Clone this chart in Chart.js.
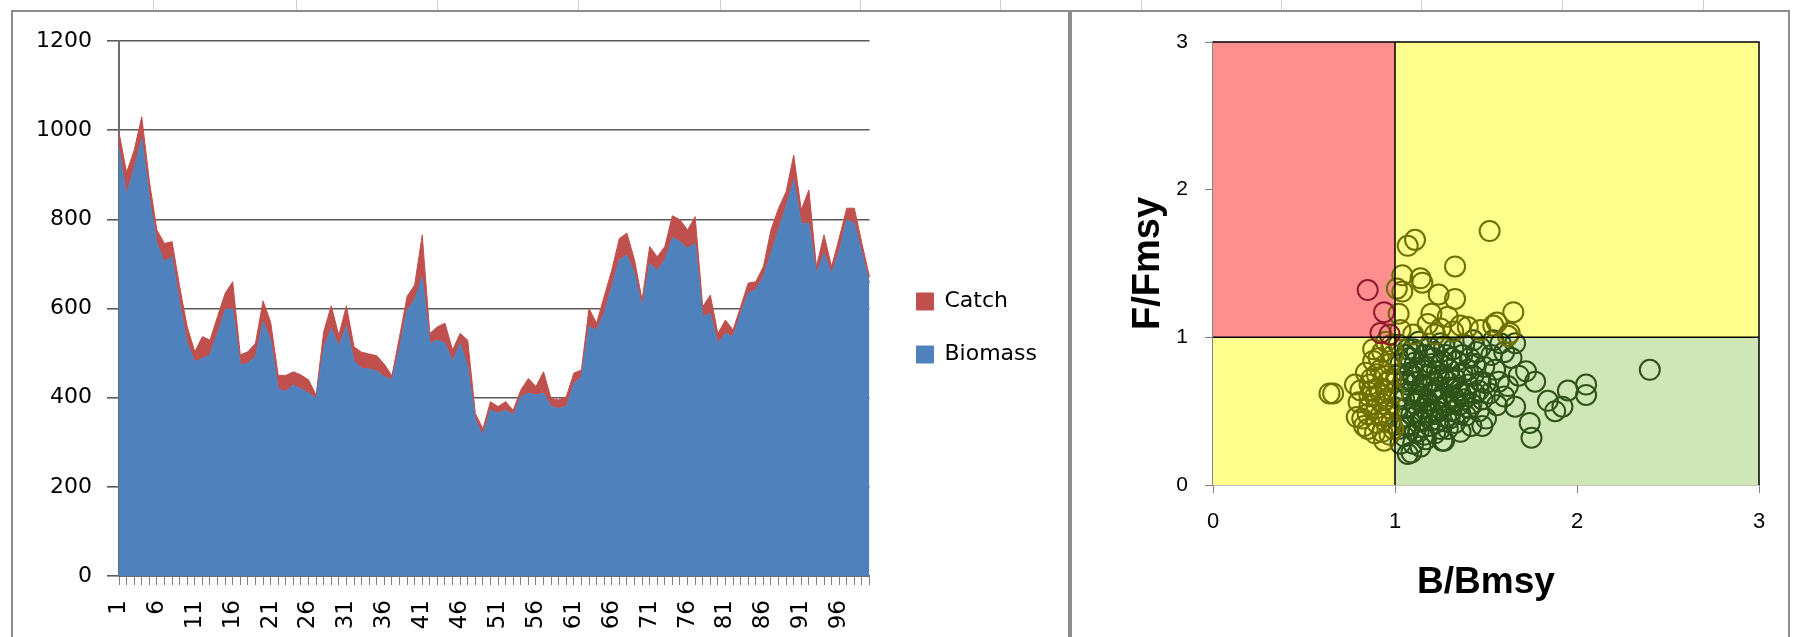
<!DOCTYPE html>
<html lang="en">
<head>
<meta charset="UTF-8">
<title>Biomass and Catch / Kobe plot</title>
<script src="https://cdn.jsdelivr.net/npm/chart.js"></script>
<style>
    body { margin: 0; background: #fff; width: 1803px; height: 637px; overflow: hidden; position: relative; }
    .frame { position: absolute; box-sizing: border-box; border: 2px solid #8d8d8d; background: #fff; }
    .cell { position: absolute; top: 0; width: 1px; height: 10px; background: #d2d2d2; }
    canvas { position: absolute; }
</style>
</head>
<body>
<div class="frame" style="left:11px;top:10px;width:1059px;height:700px"></div>
<div class="frame" style="left:1070px;top:10px;width:720px;height:700px"></div>
<canvas id="areaChart" width="1056" height="625" style="left:12px;top:12px"></canvas>
<canvas id="kobeChart" width="716" height="625" style="left:1072px;top:12px"></canvas>

<script>
// ---- data: left chart (stacked area) ----
const years = Array.from({length: 100}, (_, i) => String(i + 1));

const biomass = [
    960, 855, 914, 982, 850, 746, 705, 716, 612, 522,
    481, 488, 496, 544, 597, 600, 473, 477, 492, 570,
    530, 420, 414, 428, 420, 410, 398, 510, 555, 516,
    560, 482, 466, 464, 460, 447, 440, 510, 596, 619,
    671, 522, 529, 522, 481, 522, 470, 350, 316, 372,
    365, 372, 361, 402, 410, 406, 410, 380, 376, 380,
    432, 447, 559, 552, 589, 649, 709, 720, 679, 604,
    701, 686, 709, 759, 750, 735, 746, 582, 589, 522,
    544, 537, 589, 634, 642, 672, 724, 776, 829, 888,
    791, 791, 679, 724, 679, 728, 799, 791, 724, 657
];

const catches = [
    35, 50, 41, 48, 36, 30, 41, 34, 37, 37,
    22, 49, 33, 38, 37, 60, 23, 26, 30, 47,
    40, 30, 36, 30, 31, 30, 8, 38, 51, 24,
    46, 32, 36, 34, 34, 28, 9, 26, 31, 34,
    94, 22, 30, 45, 26, 22, 59, 15, 14, 19,
    15, 19, 11, 15, 33, 19, 48, 18, 19, 22,
    23, 15, 41, 15, 38, 37, 48, 49, 30, 15,
    38, 30, 30, 49, 49, 41, 60, 22, 41, 22,
    30, 15, 15, 23, 18, 22, 52, 49, 33, 56,
    30, 75, 15, 41, 15, 30, 26, 34, 22, 14
];

// ---- data: right chart (B/Bmsy, F/Fmsy) ----
const redZone = [[0.85,1.32],[0.94,1.17],[0.92,1.03],[0.97,1.02]];

const yellowUpper = [
    [1.52,1.72],[1.11,1.66],[1.07,1.62],[1.33,1.48],[1.04,1.42],[1.14,1.40],[1.15,1.37],
    [1.04,1.31],[1.01,1.33],[1.24,1.29],[1.33,1.26],[1.65,1.17],[1.20,1.16],[1.02,1.16],
    [1.29,1.14],[1.18,1.09],[1.36,1.08],[1.56,1.10],[1.25,1.06],[1.47,1.05],[1.40,1.07],
    [1.03,1.05],[1.63,1.03],[1.32,1.04],[1.22,1.02],[1.10,1.02],[1.54,1.08],[1.62,1.01]
];

const yellowLower = [
    [0.66,0.62],[0.64,0.62],[0.78,0.68],[0.80,0.56],[0.82,0.45],[0.83,0.40],[0.85,0.48],
    [0.86,0.60],[0.87,0.72],[0.88,0.84],[0.89,0.35],[0.90,0.52],[0.91,0.66],[0.92,0.78],
    [0.93,0.90],[0.94,0.30],[0.94,0.44],[0.95,0.58],[0.96,0.70],[0.97,0.82],[0.98,0.95],
    [0.99,0.38],[0.99,0.62],[0.88,0.92],[0.84,0.76],[0.81,0.64],[0.90,0.42],[0.93,0.55],
    [0.96,0.47],[0.98,0.72],[0.86,0.54],[0.91,0.86],[0.95,0.97],[0.97,0.34],[0.92,0.62],
    [0.79,0.46],[0.85,0.38],[0.99,0.88],[0.87,0.64],[0.94,0.74],[0.90,0.75],[0.95,0.64],
    [0.97,0.52],[0.89,0.60],[0.92,0.47],[0.98,0.42],[0.86,0.68],[0.93,0.36]
];

const greenZone = [
    [1.02,0.95],[1.03,0.82],[1.03,0.60],[1.04,0.45],[1.05,0.70],[1.05,0.33],[1.06,0.88],
    [1.06,0.52],[1.07,0.21],[1.08,0.76],[1.08,0.40],[1.09,0.63],[1.10,0.92],[1.10,0.28],
    [1.11,0.55],[1.11,0.83],[1.12,0.47],[1.12,0.70],[1.13,0.36],[1.13,0.97],[1.14,0.60],
    [1.15,0.78],[1.15,0.43],[1.16,0.88],[1.16,0.52],[1.17,0.67],[1.17,0.31],[1.18,0.74],
    [1.18,0.57],[1.19,0.93],[1.19,0.40],[1.20,0.62],[1.20,0.82],[1.21,0.48],[1.21,0.70],
    [1.22,0.35],[1.22,0.90],[1.23,0.58],[1.23,0.77],[1.24,0.44],[1.24,0.66],[1.25,0.96],
    [1.25,0.52],[1.26,0.84],[1.26,0.30],[1.27,0.62],[1.27,0.72],[1.28,0.46],[1.28,0.88],
    [1.29,0.56],[1.29,0.38],[1.30,0.78],[1.30,0.66],[1.31,0.50],[1.32,0.92],[1.32,0.60],
    [1.33,0.42],[1.33,0.72],[1.34,0.84],[1.35,0.54],[1.35,0.64],[1.36,0.36],[1.37,0.76],
    [1.38,0.58],[1.38,0.95],[1.39,0.47],[1.40,0.68],[1.41,0.86],[1.42,0.55],[1.42,0.40],
    [1.43,0.74],[1.44,0.62],[1.45,0.90],[1.46,0.50],[1.47,0.70],[1.48,0.58],[1.49,0.80],
    [1.50,0.45],[1.50,0.69],[1.52,0.62],[1.53,0.88],[1.55,0.78],[1.56,0.54],[1.57,0.70],
    [1.58,0.96],[1.60,0.60],[1.62,0.67],[1.64,0.86],[1.66,0.96],[1.66,0.53],[1.68,0.74],
    [1.72,0.77],[1.74,0.42],[1.75,0.32],[1.77,0.70],[1.84,0.57],[1.88,0.50],[1.92,0.53],
    [1.95,0.64],[2.05,0.68],[2.05,0.61],[2.40,0.78],[1.09,0.22],[1.27,0.30],[1.14,0.26],
    [1.04,0.65],[1.07,0.92],[1.12,0.58],[1.18,0.49],[1.22,0.64],[1.28,0.54],[1.36,0.62],
    [1.02,0.38],[1.01,0.74],[1.43,0.98],[1.54,0.98],[1.60,0.90],[1.47,0.93],
    [1.01,0.52],[1.03,0.28],[1.05,0.58],[1.06,0.40],[1.07,0.68],[1.08,0.86],[1.09,0.48],
    [1.10,0.74],[1.11,0.36],[1.12,0.90],[1.13,0.62],[1.14,0.44],[1.15,0.68],[1.16,0.34],
    [1.17,0.80],[1.19,0.55],[1.20,0.44],[1.21,0.86],[1.23,0.50],[1.24,0.74],[1.25,0.38],
    [1.26,0.60],[1.27,0.94],[1.29,0.70],[1.30,0.45],[1.31,0.86],[1.33,0.56],[1.34,0.66],
    [1.36,0.48],[1.37,0.88],[1.39,0.62],[1.40,0.78],[1.41,0.52],[1.44,0.82],[1.46,0.64],
    [1.48,0.40]
];

// quadrant backgrounds: [B from, B to, F from, F to]
const zones = [
    {b: [0, 1], f: [1, 3], color: '#ff8f8f'},
    {b: [1, 3], f: [1, 3], color: '#ffff8e'},
    {b: [0, 1], f: [0, 1], color: '#ffff8e'},
    {b: [1, 3], f: [0, 1], color: '#cfe7b6'}
];

// spreadsheet column lines above the charts
const cellLines = [153, 296, 437, 578, 720, 860, 1000, 1141, 1281, 1421, 1562, 1703];
cellLines.forEach(x => {
    const d = document.createElement('div');
    d.className = 'cell';
    d.style.left = x + 'px';
    document.body.appendChild(d);
});

Chart.defaults.font.family = "'DejaVu Sans', sans-serif";
Chart.defaults.color = '#000';
Chart.defaults.animation = false;

// move the legend a little right/up like in Excel
const legendNudge = {
    id: 'legendNudge',
    afterLayout(chart) {
        const lg = chart.legend;
        lg.left += 16; lg.right += 16;
        lg.top -= 11; lg.bottom -= 11;
    }
};

new Chart(document.getElementById('areaChart').getContext('2d'), {
    type: 'line',
    data: {
        labels: years,
        datasets: [
            {label: 'Biomass', data: biomass, fill: 'origin',
             backgroundColor: '#4f81bd', borderColor: '#4f81bd', borderWidth: 1},
            {label: 'Catch', data: catches, fill: '-1',
             backgroundColor: '#c0504d', borderColor: '#c0504d', borderWidth: 1}
        ]
    },
    plugins: [legendNudge],
    options: {
        responsive: false,
        layout: {padding: {top: 29, right: 37, left: 0, bottom: 0}},
        elements: {point: {radius: 0}, line: {tension: 0}},
        plugins: {
            legend: {
                position: 'right',
                reverse: true,
                labels: {boxWidth: 17, boxHeight: 17, padding: 31, font: {size: 22}, color: '#000'}
            },
            tooltip: {enabled: false}
        },
        scales: {
            x: {
                ticks: {
                    autoSkip: false, minRotation: 90, maxRotation: 90, padding: 15,
                    font: {size: 23},
                    callback: function (v, i) { return i % 5 === 0 ? this.getLabelForValue(v) : ''; }
                },
                grid: {drawOnChartArea: false, tickLength: 9, color: '#808080'},
                border: {color: '#6d6d6d', width: 2},
                afterFit: (s) => { s.height = 61; }
            },
            y: {
                stacked: true, min: 0, max: 1200,
                ticks: {stepSize: 200, padding: 15, font: {size: 22},
                        callback: (v) => String(v)},
                grid: {color: '#5a5a5a', lineWidth: 1.6, tickLength: 12},
                border: {color: '#6d6d6d', width: 2},
                afterFit: (s) => { s.width = 107; }
            }
        }
    }
});

// quadrant fills behind the points, reference lines on top
const kobeZones = {
    id: 'kobeZones',
    beforeDatasetsDraw(chart) {
        const {ctx, scales: {x, y}} = chart;
        ctx.save();
        zones.forEach(z => {
            const x0 = x.getPixelForValue(z.b[0]), x1 = x.getPixelForValue(z.b[1]);
            const y0 = y.getPixelForValue(z.f[0]), y1 = y.getPixelForValue(z.f[1]);
            ctx.fillStyle = z.color;
            ctx.fillRect(x0, y1, x1 - x0, y0 - y1);
        });
        ctx.restore();
    },
    afterDatasetsDraw(chart) {
        const {ctx, scales: {x, y}} = chart;
        const X = v => x.getPixelForValue(v), Y = v => y.getPixelForValue(v);
        ctx.save();
        ctx.strokeStyle = '#000';
        ctx.lineWidth = 1.5;
        ctx.beginPath();
        ctx.moveTo(X(1), Y(0)); ctx.lineTo(X(1), Y(3));
        ctx.moveTo(X(0), Y(1)); ctx.lineTo(X(3), Y(1));
        ctx.moveTo(X(0), Y(3)); ctx.lineTo(X(3), Y(3)); ctx.lineTo(X(3), Y(0));
        ctx.stroke();
        ctx.restore();
    }
};

const toPts = arr => arr.map(p => ({x: p[0], y: p[1]}));
const ring = (color) => ({
    pointStyle: 'circle', pointRadius: 10, pointBorderWidth: 2,
    pointBackgroundColor: 'rgba(0,0,0,0)', pointBorderColor: color
});

new Chart(document.getElementById('kobeChart').getContext('2d'), {
    type: 'scatter',
    data: {
        datasets: [
            Object.assign({label: 'overfished', data: toPts(redZone)}, ring('#8e1b2b')),
            Object.assign({label: 'caution', data: toPts(yellowUpper.concat(yellowLower))}, ring('#6f6f00')),
            Object.assign({label: 'healthy', data: toPts(greenZone)}, ring('#2f5219'))
        ]
    },
    plugins: [kobeZones],
    options: {
        responsive: false,
        layout: {padding: {top: 30, right: 29, left: 0, bottom: 0}},
        plugins: {legend: {display: false}, tooltip: {enabled: false}},
        scales: {
            x: {
                type: 'linear', min: 0, max: 3,
                ticks: {stepSize: 1, padding: 16, font: {size: 22, family: "'Liberation Sans', sans-serif"}},
                grid: {drawOnChartArea: false, tickLength: 8, color: '#808080'},
                border: {color: '#868686', width: 1.5},
                title: {display: true, text: 'B/Bmsy', color: '#000',
                        font: {size: 37, weight: 'bold', family: "'Liberation Sans', sans-serif"},
                        padding: {top: 0, bottom: 32}},
                afterFit: (s) => { s.height = 152; }
            },
            y: {
                min: 0, max: 3,
                ticks: {stepSize: 1, padding: 17, font: {size: 21, family: "'Liberation Sans Narrow', 'Liberation Sans', sans-serif"}},
                grid: {drawOnChartArea: false, tickLength: 8, color: '#808080'},
                border: {color: '#868686', width: 1.5},
                title: {display: true, text: 'F/Fmsy', color: '#000',
                        font: {size: 38, weight: 'bold', family: "'Liberation Sans', sans-serif"},
                        padding: {top: 54, bottom: 0}},
                afterFit: (s) => { s.width = 141; }
            }
        }
    }
});
</script>
</body>
</html>
